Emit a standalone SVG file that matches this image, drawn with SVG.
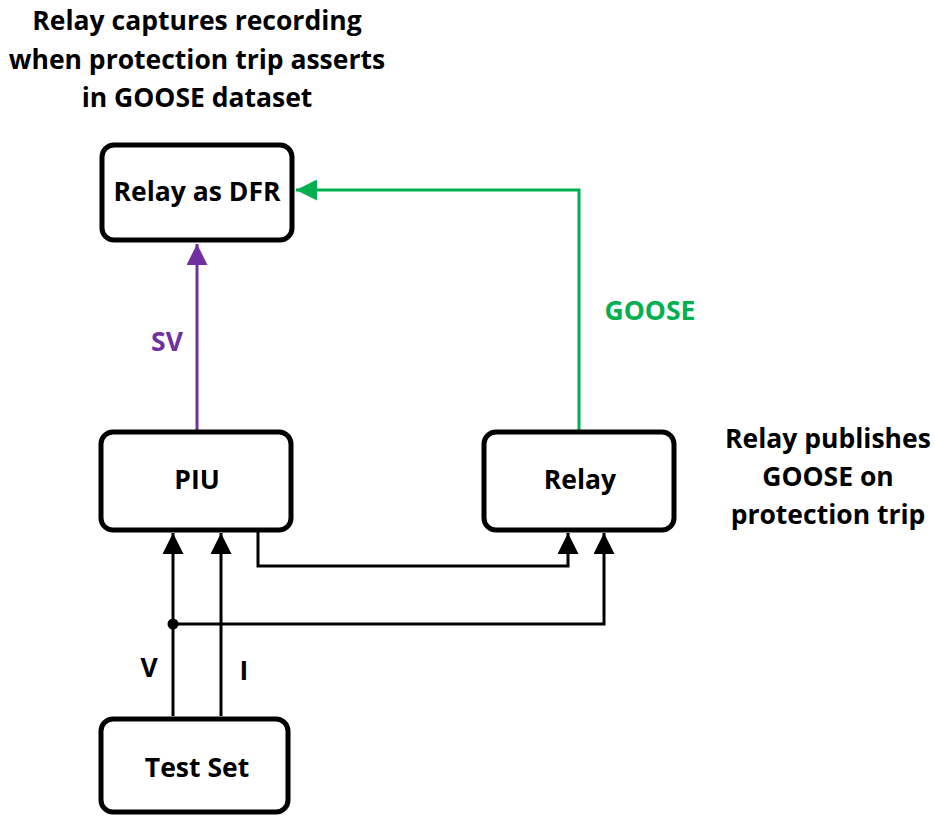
<svg xmlns="http://www.w3.org/2000/svg" width="935" height="816" viewBox="0 0 935 816">
  <style>
    .box { fill: #ffffff; stroke: #000000; stroke-width: 5; }
    .lbl { font-family: "Open Sans", "Liberation Sans", sans-serif; font-weight: bold; font-size: 26.5px; text-anchor: middle; fill: #000000; }
    .wire { fill: none; stroke: #000000; stroke-width: 3; }
    .sv { fill: none; stroke: #7030A0; stroke-width: 3; }
    .goose { fill: none; stroke: #00B050; stroke-width: 3; }
  </style>
  <defs>
    <marker id="arrK" viewBox="0 0 10 10" refX="10" refY="5" markerWidth="7" markerHeight="7" markerUnits="strokeWidth" orient="auto">
      <path d="M0,0 L10,5 L0,10 z" fill="#000000"/>
    </marker>
    <marker id="arrP" viewBox="0 0 10 10" refX="10" refY="5" markerWidth="7" markerHeight="7" markerUnits="strokeWidth" orient="auto">
      <path d="M0,0 L10,5 L0,10 z" fill="#7030A0"/>
    </marker>
    <marker id="arrG" viewBox="0 0 10 10" refX="10" refY="5" markerWidth="7" markerHeight="7" markerUnits="strokeWidth" orient="auto">
      <path d="M0,0 L10,5 L0,10 z" fill="#00B050"/>
    </marker>
  </defs>

  <!-- annotations -->
  <g id="note-dfr">
    <text class="lbl" x="197" y="30">Relay captures recording</text>
    <text class="lbl" x="197" y="69">when protection trip asserts</text>
    <text class="lbl" x="197" y="107">in GOOSE dataset</text>
  </g>
  <g id="note-relay">
    <text class="lbl" x="828" y="448">Relay publishes</text>
    <text class="lbl" x="828" y="486">GOOSE on</text>
    <text class="lbl" x="828" y="524">protection trip</text>
  </g>

  <!-- connectors -->
  <g id="connectors">
    <path class="sv" d="M197,430 L197,244" marker-end="url(#arrP)"/>
    <path class="goose" d="M579,430 L579,190 L296,190" marker-end="url(#arrG)"/>
    <path class="wire" d="M258,532 L258,566 L568,566 L568,533" marker-end="url(#arrK)"/>
    <path class="wire" d="M173,716 L173,533" marker-end="url(#arrK)"/>
    <path class="wire" d="M221,716 L221,533" marker-end="url(#arrK)"/>
    <path class="wire" d="M173,624 L604,624 L604,533" marker-end="url(#arrK)"/>
    <circle cx="173" cy="624" r="5.5" fill="#000000"/>
    <text class="lbl" x="167" y="351" style="fill:#7030A0">SV</text>
    <text class="lbl" x="650" y="320" style="fill:#00B050">GOOSE</text>
    <text class="lbl" x="149" y="677">V</text>
    <text class="lbl" x="244" y="680">I</text>
  </g>

  <!-- nodes -->
  <g id="relay-dfr">
    <rect class="box" x="102" y="145" width="190" height="95" rx="12"/>
    <text class="lbl" x="197" y="201">Relay as DFR</text>
  </g>
  <g id="piu">
    <rect class="box" x="101" y="432" width="190" height="98" rx="12"/>
    <text class="lbl" x="197" y="489">PIU</text>
  </g>
  <g id="relay">
    <rect class="box" x="484" y="432" width="190" height="98" rx="12"/>
    <text class="lbl" x="580" y="489">Relay</text>
  </g>
  <g id="test-set">
    <rect class="box" x="101" y="719" width="187" height="93" rx="12"/>
    <text class="lbl" x="197" y="777">Test Set</text>
  </g>
</svg>
